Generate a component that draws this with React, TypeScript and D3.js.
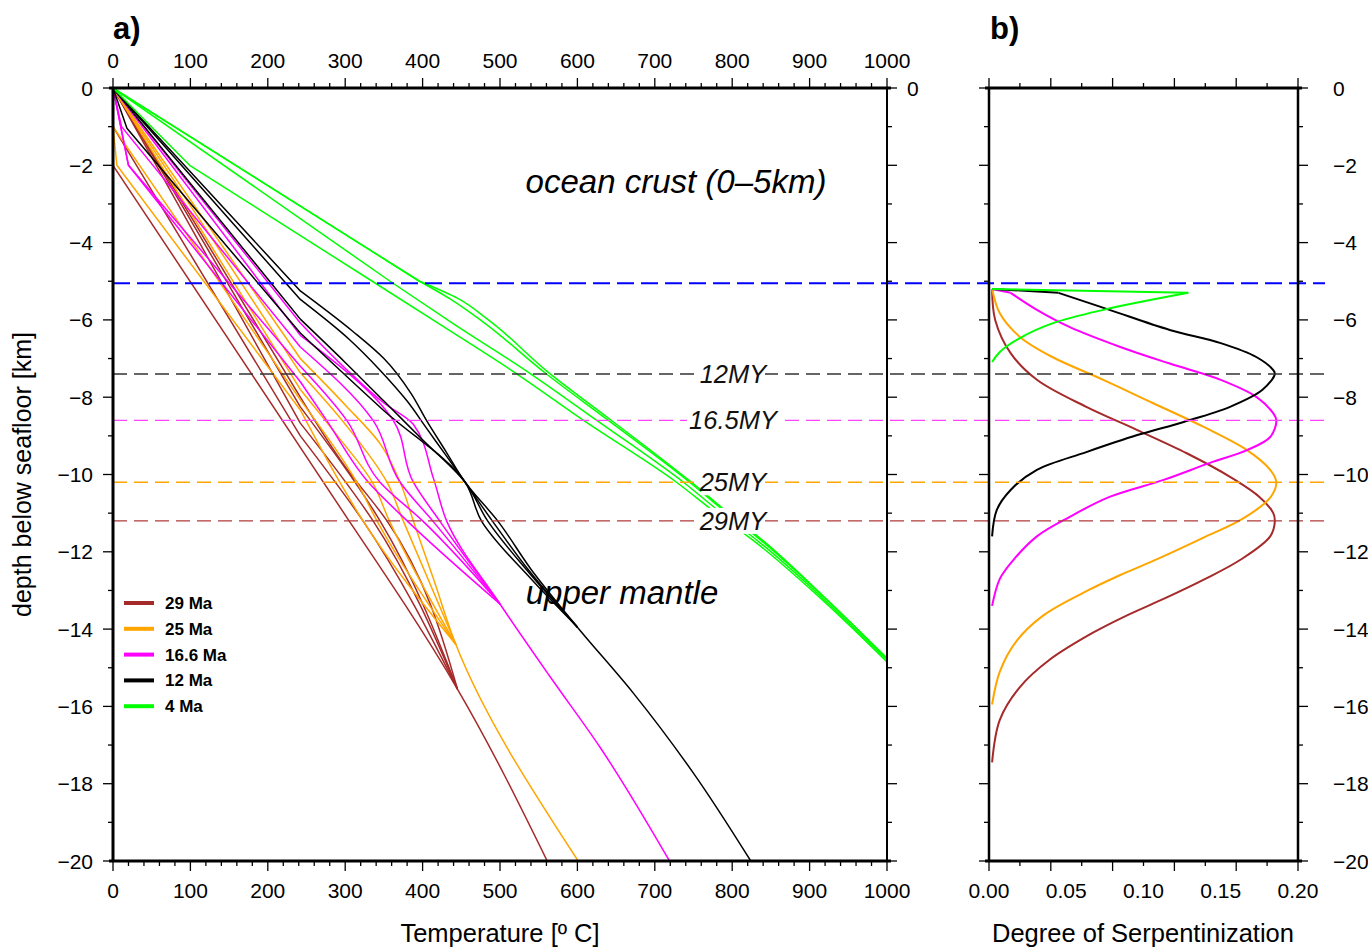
import React from "react";
import * as d3 from "d3";

type Pt = [number, number];

// ---------- axis ticks / labels ----------
const tempTicks = [0, 100, 200, 300, 400, 500, 600, 700, 800, 900, 1000];
const depthTicks = [0, -2, -4, -6, -8, -10, -12, -14, -16, -18, -20];
const serpTicks = [0, 0.05, 0.1, 0.15, 0.2];
const serpTickLabels = ["0.00", "0.05", "0.10", "0.15", "0.20"];

// ---------- legend ----------
const ageLabels = ["29 Ma", "25 Ma", "16.6 Ma", "12 Ma", "4 Ma"];
const ageColors = ["#a52a2a", "#ffa500", "#ff00ff", "#000000", "#00ff00"];

// ---------- reference depths ----------
const refDepths = [-5.05, -7.4, -8.6, -10.2, -11.2];
const refColors = ["#0000ff", "#333333", "#ff44ff", "#ffa500", "#b03a3a"];
const refLabels = ["", "12MY", "16.5MY", "25MY", "29MY"];

// ---------- panel a: geotherms [T (°C), depth (km)] ----------
const geo29: Pt[][] = [
  [[0, 0], [0, -2], [305, -11.2], [445, -15.55], [561, -20]],
  [[0, 0], [0, -1], [242, -9.0], [323, -11.2], [445, -15.55]],
  [[0, 0], [242, -8.67], [336, -11.2], [445, -15.55]],
  [[0, 0], [242, -8.25], [345, -11.2], [445, -15.55]],
  [[0, 0], [242, -8.0], [300, -9.8], [354, -11.2], [445, -15.55]],
];
const geo25: Pt[][] = [
  [[0, 0], [0, -1], [5, -2], [242, -8.33], [293, -10.2], [323, -11.2], [443, -14.4]],
  [[0, 0], [0, -1], [242, -8.07], [315, -10.2], [341, -11.2], [443, -14.4]],
  [[0, 0], [242, -7.8], [290, -9.0], [335, -10.2], [357, -11.2], [443, -14.4]],
  [[0, 0], [242, -7.37], [300, -8.7], [354, -10.2], [375, -11.2], [443, -14.4]],
  [[0, 0], [242, -7.0], [300, -8.2], [345, -9.2], [371, -10.2], [388, -11.2], [414, -12.7], [443, -14.4], [601, -20]],
];
const geo166: Pt[][] = [
  [[0, 0], [20, -2.0], [242, -7.6], [276, -8.6], [330, -10.2], [380, -11.2], [500, -13.35]],
  [[0, 0], [20, -2.0], [242, -7.2], [302, -8.6], [345, -10.2], [400, -11.2], [500, -13.35]],
  [[0, 0], [11, -1.0], [242, -6.7], [336, -8.6], [371, -10.2], [413, -11.2], [500, -13.35]],
  [[0, 0], [242, -6.4], [362, -8.6], [388, -10.2], [422, -11.2], [500, -13.35]],
  [[0, 0], [242, -6.08], [300, -7.25], [350, -8.15], [388, -8.7], [414, -10.1], [431, -11.2], [500, -13.35], [565, -15.24], [629, -17.05], [719, -20]],
];
const geo12: Pt[][] = [
  [[0, 0], [18, -1.04], [242, -6.34], [349, -8.33], [455, -10.2], [476, -11.2], [540, -12.7], [600, -13.95]],
  [[0, 0], [242, -5.98], [300, -7.1], [350, -8.1], [400, -9.1], [455, -10.2], [484, -11.2], [540, -12.6], [600, -13.95]],
  [[0, 0], [242, -5.47], [305, -6.5], [345, -7.3], [380, -8.1], [405, -8.8], [430, -9.5], [455, -10.2], [490, -11.2], [540, -12.55], [600, -13.95]],
  [[0, 0], [242, -5.25], [310, -6.3], [350, -7.0], [385, -7.9], [405, -8.6], [430, -9.4], [455, -10.2], [497, -11.2], [540, -12.45], [600, -13.95], [672, -15.65], [749, -17.7], [824, -20]],
];
const geo4: Pt[][] = [
  [[0, 0], [99, -2.0], [335, -5.0], [425, -6.15], [522, -7.4], [608, -8.6], [728, -10.2], [776, -10.95], [830, -11.75], [914, -13.2], [1000, -14.85]],
  [[0, 0], [358, -5.0], [440, -6.1], [540, -7.4], [625, -8.6], [737, -10.2], [783, -10.95], [835, -11.75], [917, -13.2], [1000, -14.8]],
  [[0, 0], [396, -5.0], [446, -5.45], [485, -6.0], [562, -7.35], [642, -8.57], [746, -10.18], [791, -10.93], [841, -11.73], [920, -13.19], [1000, -14.76]],
  [[0, 0], [396, -5.0], [439, -5.5], [478, -6.05], [560, -7.4], [640, -8.6], [745, -10.2], [790, -10.95], [840, -11.75], [920, -13.2], [1000, -14.75]],
];

// ---------- panel b: serpentinization [degree, depth (km)] ----------
const serp29: Pt[] = [
  [0.002, -5.2], [0.004, -6.0], [0.014, -6.86], [0.031, -7.55], [0.063, -8.25], [0.096, -8.85],
  [0.128, -9.45], [0.156, -10.06], [0.175, -10.58], [0.184, -11.0], [0.185, -11.22], [0.182, -11.6],
  [0.163, -12.2], [0.14, -12.7], [0.114, -13.2], [0.089, -13.65], [0.067, -14.1], [0.039, -14.8],
  [0.02, -15.5], [0.007, -16.35], [0.002, -17.45],
];
const serp25: Pt[] = [
  [0.002, -5.2], [0.007, -5.83], [0.02, -6.44], [0.041, -6.96], [0.074, -7.55], [0.106, -8.15],
  [0.139, -8.77], [0.167, -9.37], [0.182, -9.88], [0.186, -10.2], [0.182, -10.6], [0.164, -11.15],
  [0.138, -11.65], [0.11, -12.17], [0.085, -12.6], [0.064, -13.0], [0.035, -13.65], [0.018, -14.3],
  [0.007, -15.1], [0.002, -15.95],
];
const serp166: Pt[] = [
  [0.002, -5.2], [0.014, -5.3], [0.031, -5.74], [0.052, -6.18], [0.085, -6.7], [0.117, -7.13],
  [0.15, -7.55], [0.173, -7.99], [0.184, -8.42], [0.186, -8.6], [0.182, -9.03], [0.167, -9.37],
  [0.143, -9.7], [0.113, -10.14], [0.078, -10.58], [0.052, -11.1], [0.031, -11.6], [0.016, -12.2],
  [0.007, -12.7], [0.002, -13.4],
];
const serp12: Pt[] = [
  [0.002, -5.2], [0.045, -5.3], [0.078, -5.74], [0.117, -6.26], [0.15, -6.6], [0.173, -6.96],
  [0.184, -7.3], [0.185, -7.4], [0.177, -7.81], [0.156, -8.25], [0.126, -8.64], [0.096, -8.98],
  [0.063, -9.42], [0.031, -9.88], [0.014, -10.4], [0.005, -10.92], [0.002, -11.6],
];
const serp4: Pt[] = [
  [0.002, -5.2], [0.129, -5.3], [0.074, -5.74], [0.041, -6.09], [0.02, -6.47], [0.007, -6.83], [0.002, -7.09],
];
// index where the straight top segment ends and the smooth curve begins
const serpCorner = [0, 0, 1, 1, 1];

const FONT = "'Liberation Sans', Arial, Helvetica, sans-serif";

export default function App() {
  const W = 1368;
  const H = 947;
  const xT = d3.scaleLinear().domain([0, 1000]).range([113, 887]);
  const yD = d3.scaleLinear().domain([0, -20]).range([88, 861]);
  const xS = d3.scaleLinear().domain([0, 0.2]).range([989, 1298]);

  const lineALin = d3.line<Pt>().x((d) => xT(d[0])).y((d) => yD(d[1]));
  const lineASm = d3
    .line<Pt>()
    .x((d) => xT(d[0]))
    .y((d) => yD(d[1]))
    .curve(d3.curveMonotoneY);
  const lineBLin = d3.line<Pt>().x((d) => xS(d[0])).y((d) => yD(d[1]));
  const lineB = d3
    .line<Pt>()
    .x((d) => xS(d[0]))
    .y((d) => yD(d[1]))
    .curve(d3.curveCatmullRom.alpha(0.5));

  const geoSets = [geo29, geo25, geo166, geo12, geo4];
  const serpSets = [serp29, serp25, serp166, serp12, serp4];

  // straight shallow part (through the first anchor at T >= 240), smooth below
  const geoPath = (ln: Pt[]) => {
    let k = ln.findIndex((p) => p[0] >= 240);
    if (k < 0) k = ln.length - 1;
    const head = lineALin(ln.slice(0, k + 1)) || "";
    const tail = k < ln.length - 1 ? lineASm(ln.slice(k)) || "" : "";
    return head + (tail ? " " + tail : "");
  };

  const tempMinor = xT.ticks(40);
  const depthMinor = yD.ticks(20);
  const serpMinor = xS.ticks(8);

  const tickStyle = { stroke: "#000", strokeWidth: 1.3 };
  const lblStyle: React.CSSProperties = { fontFamily: FONT, fontSize: 21, fill: "#000" };

  const [x0a, x1a] = xT.range();
  const [x0b, x1b] = xS.range();
  const [yTop, yBot] = yD.range();

  return (
    <svg
      width={W}
      height={H}
      style={{ position: "absolute", left: 0, top: 0, background: "#fff" }}
    >
      <defs>
        <clipPath id="clipA">
          <rect x={x0a} y={yTop} width={x1a - x0a} height={yBot - yTop} />
        </clipPath>
        <clipPath id="clipB">
          <rect x={x0b} y={yTop} width={x1b - x0b} height={yBot - yTop} />
        </clipPath>
      </defs>
      <rect x={0} y={0} width={W} height={H} fill="#fff" />

      {/* geotherms */}
      <g clipPath="url(#clipA)">
        {geoSets.map((set, i) =>
          set.map((ln, j) => (
            <path
              key={`g${i}-${j}`}
              d={geoPath(ln)}
              fill="none"
              stroke={ageColors[i]}
              strokeWidth={1.5}
              strokeLinejoin="round"
            />
          ))
        )}
      </g>

      {/* serpentinization */}
      <g clipPath="url(#clipB)">
        {serpSets.map((s, i) => {
          const c = serpCorner[i];
          const head = c > 0 ? lineBLin(s.slice(0, c + 1)) || "" : "";
          const tail = lineB(s.slice(c)) || "";
          return (
            <g key={`s${i}`}>
              {head && <path d={head} fill="none" stroke={ageColors[i]} strokeWidth={2} />}
              <path d={tail} fill="none" stroke={ageColors[i]} strokeWidth={2} strokeLinejoin="round" />
            </g>
          );
        })}
      </g>

      {/* reference dashed lines */}
      {refDepths.map((d, i) => (
        <line
          key={`r${i}`}
          x1={x0a}
          x2={1325}
          y1={yD(d)}
          y2={yD(d)}
          stroke={refColors[i]}
          strokeWidth={i === 0 ? 2 : 1.4}
          strokeDasharray={i === 0 ? "17,7" : "14,7"}
        />
      ))}

      {/* MY labels */}
      {refLabels.map((t, i) =>
        t ? (
          <g key={`rl${i}`}>
            <rect
              x={733 - (t.length * 14 + 8) / 2}
              y={yD(refDepths[i]) - 13}
              width={t.length * 14 + 8}
              height={26}
              fill="#fff"
            />
            <text
              x={733}
              y={yD(refDepths[i]) + 9}
              textAnchor="middle"
              style={{ fontFamily: FONT, fontSize: 25.5, fontStyle: "italic", fill: "#111" }}
            >
              {t}
            </text>
          </g>
        ) : null
      )}

      {/* ---------- axes ticks ---------- */}
      {tempMinor.map((t) => {
        const major = t % 100 === 0;
        const len = major ? 10 : 5;
        return (
          <g key={`tt${t}`}>
            <line x1={xT(t)} x2={xT(t)} y1={yTop} y2={yTop - len} {...tickStyle} />
            <line x1={xT(t)} x2={xT(t)} y1={yBot} y2={yBot + len} {...tickStyle} />
          </g>
        );
      })}
      {depthMinor.map((d) => {
        const major = d % 2 === 0;
        const len = major ? 10 : 5;
        return (
          <g key={`dt${d}`}>
            <line x1={x0a} x2={x0a - len} y1={yD(d)} y2={yD(d)} {...tickStyle} />
            <line x1={x1a} x2={x1a + len} y1={yD(d)} y2={yD(d)} {...tickStyle} />
            <line x1={x0b} x2={x0b - len} y1={yD(d)} y2={yD(d)} {...tickStyle} />
            <line x1={x1b} x2={x1b + len} y1={yD(d)} y2={yD(d)} {...tickStyle} />
          </g>
        );
      })}
      {serpMinor.map((s, k) => {
        const len = k % 2 === 0 ? 10 : 5;
        return (
          <g key={`st${k}`}>
            <line x1={xS(s)} x2={xS(s)} y1={yTop} y2={yTop - len} {...tickStyle} />
            <line x1={xS(s)} x2={xS(s)} y1={yBot} y2={yBot + len} {...tickStyle} />
          </g>
        );
      })}

      {/* frames */}
      <line x1={x0a - 4} x2={x1a + 4} y1={yTop} y2={yTop} stroke="#000" strokeWidth={3} />
      <line x1={x0a - 4} x2={x1a + 4} y1={yBot} y2={yBot} stroke="#000" strokeWidth={3} />
      <line x1={x0a} x2={x0a} y1={yTop} y2={yBot} stroke="#000" strokeWidth={3} />
      <line x1={x1a} x2={x1a} y1={yTop} y2={yBot} stroke="#000" strokeWidth={2} />
      <line x1={x0b - 4} x2={x1b + 4} y1={yTop} y2={yTop} stroke="#000" strokeWidth={3} />
      <line x1={x0b - 4} x2={x1b + 4} y1={yBot} y2={yBot} stroke="#000" strokeWidth={3} />
      <line x1={x0b} x2={x0b} y1={yTop} y2={yBot} stroke="#000" strokeWidth={2.5} />
      <line x1={x1b} x2={x1b} y1={yTop} y2={yBot} stroke="#000" strokeWidth={2.5} />

      {/* tick labels */}
      {tempTicks.map((t) => (
        <g key={`tl${t}`}>
          <text x={xT(t)} y={yTop - 20} textAnchor="middle" style={lblStyle}>
            {t}
          </text>
          <text x={xT(t)} y={yBot + 37} textAnchor="middle" style={lblStyle}>
            {t}
          </text>
        </g>
      ))}
      {depthTicks.map((d) => (
        <text key={`dl${d}`} x={x0a - 20} y={yD(d) + 7.5} textAnchor="end" style={lblStyle}>
          {d === 0 ? "0" : `\u2212${Math.abs(d)}`}
        </text>
      ))}
      <text x={x1a + 20} y={yD(0) + 7.5} textAnchor="start" style={lblStyle}>
        0
      </text>
      {depthTicks.map((d) => (
        <text key={`dr${d}`} x={1333} y={yD(d) + 7.5} textAnchor="start" style={lblStyle}>
          {d === 0 ? "0" : `\u2212${Math.abs(d)}`}
        </text>
      ))}
      {serpTicks.map((s, k) => (
        <text key={`sl${k}`} x={xS(s)} y={yBot + 37} textAnchor="middle" style={lblStyle}>
          {serpTickLabels[k]}
        </text>
      ))}

      {/* axis titles */}
      <text x={500} y={942} textAnchor="middle" style={{ ...lblStyle, fontSize: 25.5 }}>
        Temperature [º C]
      </text>
      <text x={1143} y={942} textAnchor="middle" style={{ ...lblStyle, fontSize: 25.5 }}>
        Degree of Serpentinization
      </text>
      <text
        transform={`translate(31,${(yTop + yBot) / 2}) rotate(-90)`}
        textAnchor="middle"
        style={{ ...lblStyle, fontSize: 25 }}
      >
        depth below seafloor [km]
      </text>

      {/* panel letters */}
      <text x={113} y={39} style={{ fontFamily: FONT, fontSize: 31, fontWeight: "bold" }}>
        a)
      </text>
      <text x={990} y={39} style={{ fontFamily: FONT, fontSize: 31, fontWeight: "bold" }}>
        b)
      </text>

      {/* annotations */}
      <text x={676} y={193} textAnchor="middle" style={{ fontFamily: FONT, fontSize: 33, fontStyle: "italic" }}>
        ocean crust (0–5km)
      </text>
      <text x={622} y={604} textAnchor="middle" style={{ fontFamily: FONT, fontSize: 33, fontStyle: "italic" }}>
        upper mantle
      </text>

      {/* legend */}
      {ageLabels.map((a, i) => {
        const yy = 603 + i * 25.8;
        return (
          <g key={`lg${i}`}>
            <line x1={124} x2={154} y1={yy} y2={yy} stroke={ageColors[i]} strokeWidth={4} />
            <text x={165} y={yy + 6} style={{ fontFamily: FONT, fontSize: 17, fontWeight: "bold" }}>
              {a}
            </text>
          </g>
        );
      })}
    </svg>
  );
}
